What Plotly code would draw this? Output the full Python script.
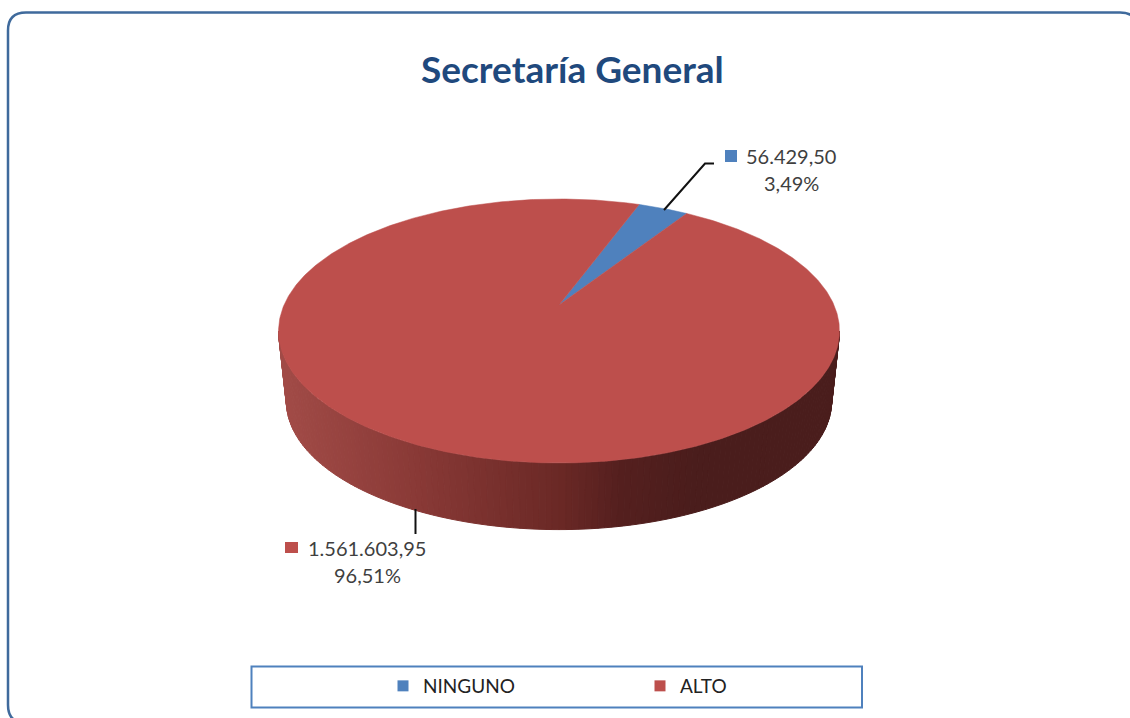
import numpy as np
import plotly.graph_objects as go

# ---- data ----
categories = ["NINGUNO", "ALTO"]
values = [56429.50, 1561603.95]
value_labels = ["56.429,50", "1.561.603,95"]
percent_labels = ["3,49%", "96,51%"]
title_text = "Secretaría General"

# ---- style ----
BLUE, RED = "#4F81BD", "#BD4F4C"
FONT = "Lato"
TEXT = "#3F3F3F"
W, H = 1130, 718
ROT = 20.2          # angle of first slice, degrees clockwise from the back
X0, Y0 = 559, 305   # projected pie centre
A, B, K = 126.9, 275.0, 0.1969  # perspective of the disc
DEPTH_Y, DEPTH_S = 71, 0.972    # offset and scale of the lower rim


def project(phi, s=1.0, dy=0.0):
    p = np.radians(phi)
    u, v = np.sin(p), np.cos(p)
    w = 1 + K * v
    return X0 + s * B * u / w, Y0 + dy - s * A * v / w


def mix(x):
    stops = [(280, (163, 76, 72)), (415, (138, 58, 55)), (560, (107, 41, 38)),
             (620, (85, 32, 31)), (700, (74, 29, 28)), (840, (74, 29, 28))]
    xs = [a for a, _ in stops]
    return "rgb(%d,%d,%d)" % tuple(np.interp(x, xs, [c[i] for _, c in stops]) for i in range(3))


fig = go.Figure()

# side wall of the disc, shaded left to right
lead = np.degrees(np.arccos(-K))
edges = np.linspace(360 - lead, lead, 141)
for a, b in zip(edges[:-1], edges[1:]):
    xt, yt = project(np.array([a, b]))
    xb, yb = project(np.array([b, a]), DEPTH_S, DEPTH_Y)
    col = mix((xt.mean() + xb.mean()) / 2)
    fig.add_trace(go.Scatter(x=list(xt) + list(xb) + [xt[0]], y=list(yt) + list(yb) + [yt[0]],
                             mode="lines", fill="toself", fillcolor=col,
                             line=dict(color=col, width=1), hoverinfo="skip", showlegend=False))

# top face slices, angles come from the values
shares = np.array(values) / sum(values)
start = ROT
for cat, share, col in zip(categories, shares, [BLUE, RED]):
    ang = np.linspace(start, start + share * 360, max(8, int(share * 720)))
    x, y = project(ang)
    fig.add_trace(go.Scatter(x=[X0, *x, X0], y=[Y0, *y, Y0], mode="lines", fill="toself",
                             fillcolor=col, line=dict(color=col, width=0.5),
                             name=cat, hoverinfo="name", showlegend=False))
    start += share * 360

# legend entries
for cat, col in zip(categories, [BLUE, RED]):
    fig.add_trace(go.Scatter(x=[None], y=[None], mode="markers", name=cat,
                             marker=dict(symbol="square", size=11, color=col)))

# frame, legend box, leader lines and label swatches
R = 18
L, T, RT, BT = 8, 12.5, 1138, 723
shapes = [
    dict(type="path", xref="x", yref="y", line=dict(color="#3F6A9C", width=2.5),
         path=f"M {L+R} {T} L {RT-R} {T} Q {RT} {T} {RT} {T+R} L {RT} {BT-R} Q {RT} {BT} {RT-R} {BT} "
              f"L {L+R} {BT} Q {L} {BT} {L} {BT-R} L {L} {T+R} Q {L} {T} {L+R} {T} Z"),
    dict(type="rect", x0=251.5, x1=862, y0=666.5, y1=707.5, line=dict(color=BLUE, width=2)),
    dict(type="path", path="M 664 210 L 705 163.5 L 714 163.5", line=dict(color="#111111", width=2)),
    dict(type="line", x0=415.5, x1=415.5, y0=509, y1=534, line=dict(color="#111111", width=2)),
    dict(type="rect", x0=725, x1=737, y0=150, y1=162, fillcolor=BLUE, line=dict(width=0)),
    dict(type="rect", x0=285, x1=298, y0=542, y1=553, fillcolor=RED, line=dict(width=0)),
]

ann = [
    dict(x=572, y=68, text=f"<b>{title_text}</b>", font=dict(size=37, color="#1F497D")),
    dict(x=791, y=156, text=value_labels[0], font=dict(size=20, color=TEXT)),
    dict(x=791, y=183, text=percent_labels[0], font=dict(size=20, color=TEXT)),
    dict(x=367, y=548, text=value_labels[1], font=dict(size=20, color=TEXT)),
    dict(x=367, y=575, text=percent_labels[1], font=dict(size=20, color=TEXT)),
]
for a in ann:
    a.update(xref="x", yref="y", showarrow=False, xanchor="center", yanchor="middle")
    a["font"]["family"] = FONT

fig.update_layout(
    width=W, height=H, margin=dict(l=0, r=0, t=0, b=0),
    paper_bgcolor="white", plot_bgcolor="white", shapes=shapes, annotations=ann,
    xaxis=dict(range=[0, W], visible=False, fixedrange=True),
    yaxis=dict(range=[H, 0], visible=False, fixedrange=True),
    legend=dict(orientation="h", x=383 / W, y=1 - 686 / H, xanchor="left", yanchor="middle",
                entrywidth=212, entrywidthmode="pixels", bgcolor="rgba(0,0,0,0)",
                font=dict(family=FONT, size=19, color="#222222")),
    hovermode="closest",
)

fig.write_html("out.html", config=dict(displayModeBar=False),
               post_script="document.body.style.margin='0';")
